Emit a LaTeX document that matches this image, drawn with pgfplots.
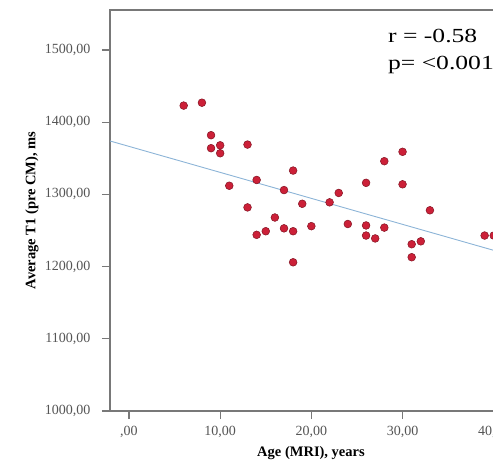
\documentclass[border=0pt]{standalone}
\usepackage{pgfplots}
\pgfplotsset{compat=1.18}
\usepackage{fontspec}
\setmainfont{Liberation Serif}
\newfontfamily\statfont[FakeStretch=1.28]{Liberation Serif}
\definecolor{dotfill}{RGB}{204,32,56}
\definecolor{dotedge}{RGB}{130,20,35}
\definecolor{fitline}{RGB}{140,180,215}
\definecolor{axgray}{RGB}{120,120,120}
\definecolor{lblgray}{RGB}{85,85,85}
\begin{document}
\begin{tikzpicture}
\begin{axis}[
  scale only axis,
  width=402pt, height=401pt,
  xmin=-2.08, xmax=42.0,
  ymin=1000, ymax=1555.4,
  xtick={0,10,20,30,40},
  xticklabels={{,00},{10,00},{20,00},{30,00},{40,00}},
  ytick={1000,1100,1200,1300,1400,1500},
  yticklabels={{1000,00},{1100,00},{1200,00},{1300,00},{1400,00},{1500,00}},
  tick align=outside,
  major tick length=8pt,
  xtick pos=bottom, ytick pos=left,
  tick style={axgray, line width=1.2pt},
  axis line style={axgray, line width=1.4pt},
  ticklabel style={font=\fontsize{14}{16}\selectfont, text=lblgray},
  yticklabel style={xshift=-8pt},
  xticklabel style={yshift=-4pt},
  xlabel={Age (MRI), years},
  ylabel={Average T1 (pre CM), ms},
  label style={font=\fontsize{14.5}{16}\selectfont\bfseries},
  xlabel style={at={(axis description cs:0.5,-0.105)}, anchor=center},
  ylabel style={at={(axis description cs:-0.194,0.5)}, anchor=center},
  clip marker paths=true,
]
\addplot[fitline, line width=0.9pt, forget plot] coordinates {(-2.08,1374) (42.0,1215.3)};
\addplot[only marks, mark=*, mark size=3.9pt, mark options={fill=dotfill, draw=dotedge, line width=0.5pt}] coordinates {
(6.0,1423) (8.0,1427) (9.0,1382) (9.0,1364) (10.0,1368) (10.0,1357)
(13.0,1369) (18.0,1333) (14.0,1320) (11.0,1312) (17.0,1306) (19.0,1287)
(22.0,1289) (13.0,1282) (16.0,1268) (14.0,1244) (15.0,1249) (17.0,1253)
(18.0,1249) (20.0,1256) (18.0,1206) (23.0,1302) (26.0,1316) (28.0,1346)
(30.0,1359) (30.0,1314) (33.0,1278) (24.0,1259) (26.0,1257) (26.0,1243)
(27.0,1239) (28.0,1254) (31.0,1231) (32.0,1235) (31.0,1213) (39.0,1243)
(40.0,1243)
};
\node[anchor=base west, inner sep=0pt, font=\statfont\fontsize{20}{23}\selectfont] at (axis cs:28.4,1511) {r = -0.58};
\node[anchor=base west, inner sep=0pt, font=\statfont\fontsize{20}{23}\selectfont] at (axis cs:28.4,1473) {p= <0.001};
\coordinate (SW) at (rel axis cs:0,0);
\end{axis}
\pgfresetboundingbox
\useasboundingbox ([shift={(-110pt,-55pt)}]SW) rectangle ([shift={(383pt,411pt)}]SW);
\end{tikzpicture}
\end{document}
